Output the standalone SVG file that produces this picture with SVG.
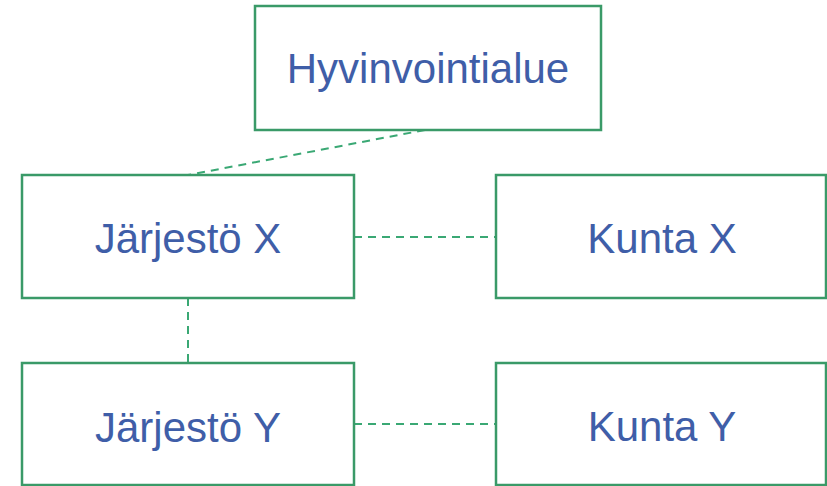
<svg xmlns="http://www.w3.org/2000/svg" width="827" height="486" viewBox="0 0 827 486">
<style>
.box{fill:#fff;stroke:#3a9a68;stroke-width:2.5}
.lbl{font-family:"Liberation Sans",Arial,sans-serif;font-size:42px;fill:#3f5ea8;text-anchor:middle}
.conn{stroke:#3aa874;stroke-width:2;stroke-dasharray:8,6;fill:none}
</style>
<rect width="827" height="486" fill="#fff"/>
<g id="connectors">
<line class="conn" x1="425" y1="130" x2="188" y2="175"/>
<line class="conn" x1="354" y1="237" x2="496" y2="237"/>
<line class="conn" x1="188" y1="298" x2="188" y2="363"/>
<line class="conn" x1="354" y1="424" x2="496" y2="424"/>
</g>
<g id="hyvinvointialue">
<rect class="box" x="255" y="6" width="346" height="124"/>
<text class="lbl" x="428" y="83">Hyvinvointialue</text>
</g>
<g id="jarjesto-x">
<rect class="box" x="22" y="175" width="332" height="123"/>
<text class="lbl" x="188" y="253">Järjestö X</text>
</g>
<g id="kunta-x">
<rect class="box" x="496" y="175" width="330" height="123"/>
<text class="lbl" x="662" y="253">Kunta X</text>
</g>
<g id="jarjesto-y">
<rect class="box" x="22" y="363" width="332" height="122"/>
<text class="lbl" x="188" y="442">Järjestö Y</text>
</g>
<g id="kunta-y">
<rect class="box" x="496" y="363" width="330" height="122"/>
<text class="lbl" x="662" y="441">Kunta Y</text>
</g>
</svg>
